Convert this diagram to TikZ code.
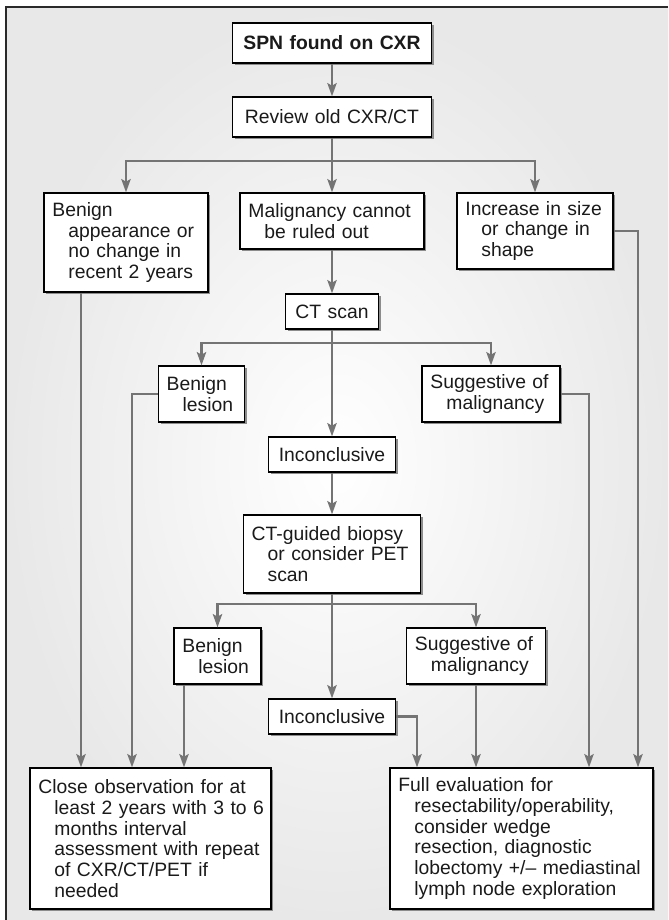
\documentclass[tikz,border=0pt]{standalone}
\usepackage{fontspec}
\setmainfont{Liberation Sans}
\usetikzlibrary{arrows.meta,shadows}

\definecolor{lineg}{HTML}{747474}
\definecolor{txt}{HTML}{1A1A1A}
\definecolor{frame}{HTML}{2A2A2A}

% hanging indent for continuation lines
\newcommand\hin{\hspace*{12pt}}

\begin{document}
\begin{tikzpicture}[x=0.75pt,y=-0.75pt,
  box/.style 2 args={draw=black, line width=0.9pt, fill=white, text=txt,
    minimum width=#1*0.75pt, minimum height=#2*0.75pt,
    /utils/exec={\pgfmathsetmacro\boxtw{#1*0.75-12.6}},
    text width=\boxtw pt, align=left, inner xsep=6.3pt, inner ysep=0pt,
    font=\fontsize{14.5}{15.6}\selectfont,
    drop shadow={shadow xshift=1.8pt, shadow yshift=-1.8pt, fill=black!45, opacity=1}},
  cbox/.style={align=center},
  ln/.style={draw=lineg, line width=1.7pt},
  arr/.style={ln, -{Stealth[length=10pt,width=7pt,inset=2pt]}},
]
% page and shaded panel
\fill[white] (0,0) rectangle (668,920);
\path[use as bounding box] (0,0) rectangle (668,920);
\shade[inner color=white, outer color=black!9] (6,7) rectangle (668,920);
\draw[line width=1.4pt, draw=frame] (6,920) -- (6,7) -- (668,7);

% boxes
\node[box={199}{40}, cbox, font=\fontsize{14.5}{15.6}\selectfont\bfseries] (spn) at (332,43) {SPN found on CXR};
\node[box={199}{40}, cbox] (review) at (332,117) {Review old CXR/CT};

\node[box={164}{99}] (benign1) at (126,242.5) {Benign\\\hin appearance~or\\\hin no~change~in\\\hin recent~2~years};
\node[box={184}{56}] (malig) at (332,221) {Malignancy~cannot\\\hin be~ruled~out};
\node[box={156}{76}] (incr) at (535,231) {Increase~in~size\\\hin or~change~in\\\hin shape};

\node[box={92.5}{35}, cbox] (ctscan) at (332,311.5) {CT scan};
\node[box={86.5}{56}] (benles1) at (201.5,394) {Benign\\\hin lesion};
\node[box={138}{56}] (sugg1) at (491,394) {Suggestive~of\\\hin malignancy};
\node[box={126.5}{35}, cbox] (incon1) at (332,454.5) {Inconclusive};

\node[box={177.5}{78}] (ctguided) at (332,554) {CT-guided~biopsy\\\hin or~consider~PET\\\hin scan};
\node[box={87}{56}] (benles2) at (217.5,656) {Benign\\\hin lesion};
\node[box={139}{56}] (sugg2) at (476,656) {Suggestive~of\\\hin malignancy};
\node[box={126.5}{35}, cbox] (incon2) at (332,716.5) {Inconclusive};

\node[box={241}{141}] (closeobs) at (150.5,838.5) {Close~observation~for~at\\\hin least~2~years~with~3~to~6\\\hin months~interval\\\hin assessment~with~repeat\\\hin of~CXR/CT/PET~if\\\hin needed};
\node[box={263}{141}] (fulleval) at (521.5,838.5) {Full~evaluation~for\\\hin resectability/operability,\\\hin consider~wedge\\\hin resection,~diagnostic\\\hin lobectomy~+/\textendash~mediastinal\\\hin lymph~node~exploration};

% branch points and side rails
\coordinate (j1) at (332,161);
\coordinate (j2) at (332,343);
\coordinate (j3) at (332,604);
\coordinate (l1) at (81,0);
\coordinate (l2) at (132,0);
\coordinate (l3) at (184,0);
\coordinate (r1) at (638,0);
\coordinate (r2) at (589,0);
\coordinate (r3) at (417,0);

% main column
\draw[arr] (spn) -- (review);
\draw[ln] (review) -- (j1);
\draw[arr] (j1) -| (benign1);
\draw[arr] (j1) -- (malig);
\draw[arr] (j1) -| (incr);
\draw[arr] (malig) -- (ctscan);
\draw[ln] (ctscan) -- (j2);
\draw[arr] (j2) -| (benles1);
\draw[arr] (j2) -| (sugg1);
\draw[arr] (j2) -- (incon1);
\draw[arr] (incon1) -- (ctguided);
\draw[ln] (ctguided) -- (j3);
\draw[arr] (j3) -| (benles2);
\draw[arr] (j3) -| (sugg2);
\draw[arr] (j3) -- (incon2);

% into the observation box
\draw[arr] (benign1.south -| l1) -- (l1 |- closeobs.north);
\draw[arr] (benles1.west) -| (l2 |- closeobs.north);
\draw[arr] (benles2.south -| l3) -- (l3 |- closeobs.north);

% into the evaluation box
\draw[arr] (incon2.east) -| (r3 |- fulleval.north);
\draw[arr] (sugg2) -- (sugg2 |- fulleval.north);
\draw[arr] (sugg1.east) -| (r2 |- fulleval.north);
\draw[arr] (incr.east) -| (r1 |- fulleval.north);
\end{tikzpicture}
\end{document}
